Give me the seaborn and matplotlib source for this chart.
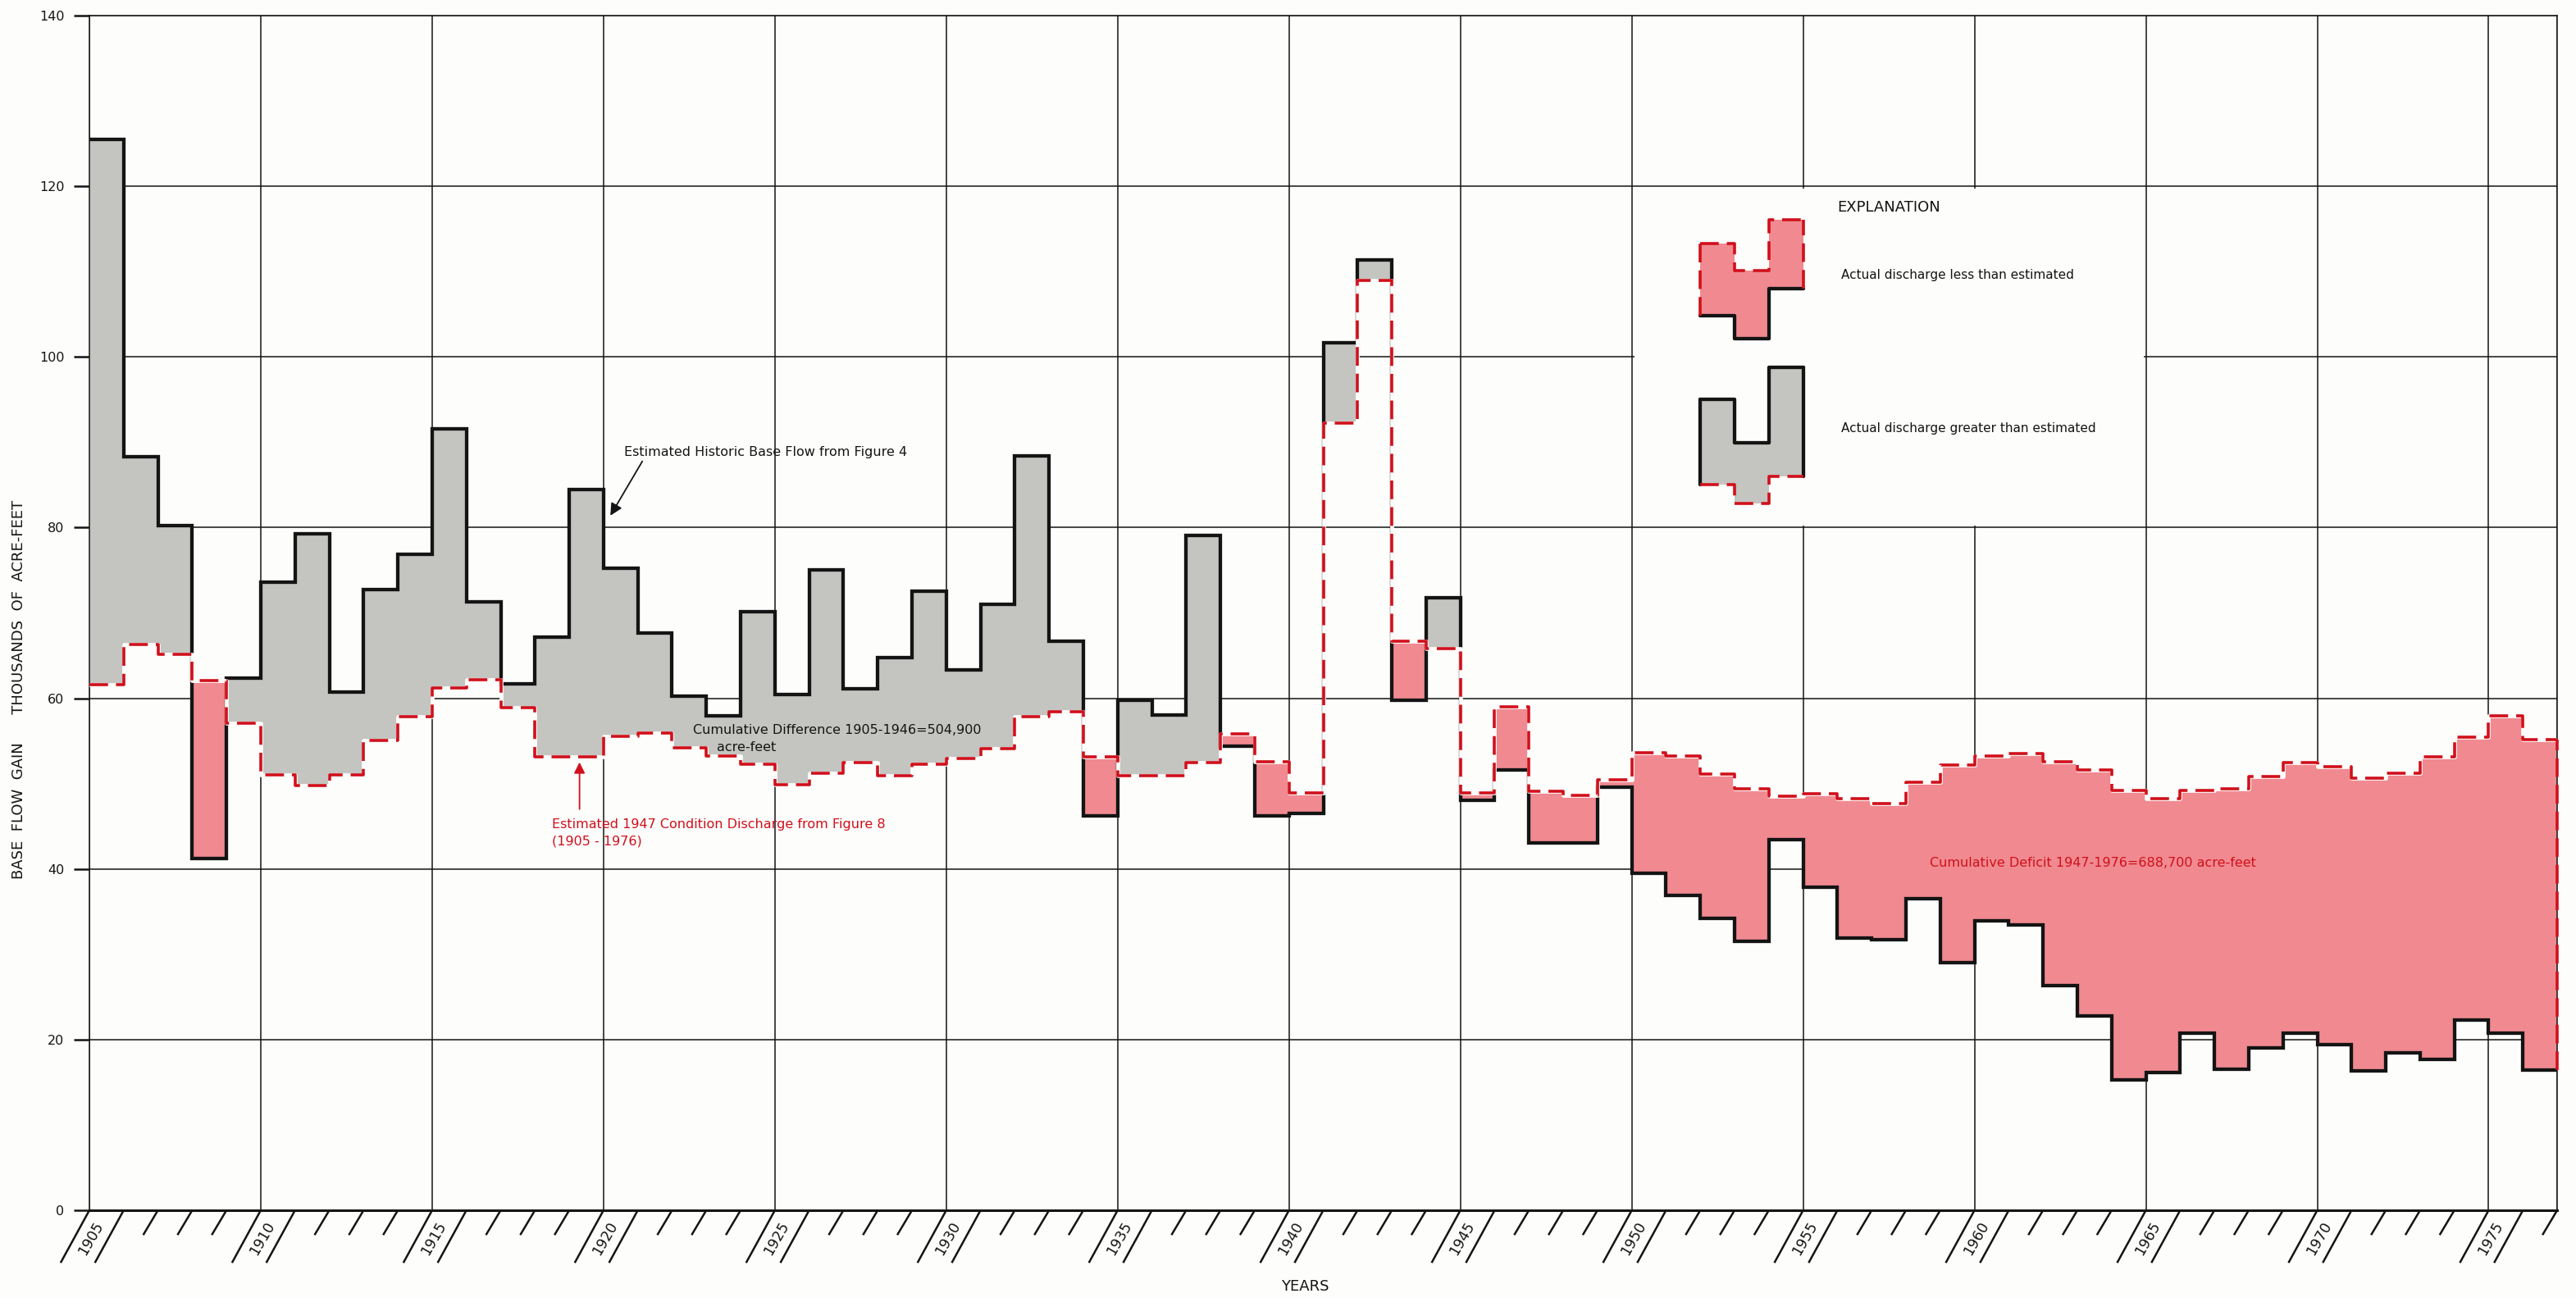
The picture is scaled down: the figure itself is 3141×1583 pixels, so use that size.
import numpy as np
import matplotlib
matplotlib.use("Agg")
import matplotlib.pyplot as plt
from matplotlib.patches import Rectangle
import seaborn as sns

# base flow gain, thousands of acre-feet, one value per year (1905-1976)
years = np.arange(1905, 1977)

# estimated historic base flow (Figure 4) - the black line
actual = [125.5, 88.3, 80.2, 41.2, 62.4, 73.6, 79.3, 60.7, 72.7, 76.9,
          91.6, 71.3, 61.7, 67.2, 84.5, 75.2, 67.6, 60.2, 57.9, 70.1,
          60.4, 75.0, 61.1, 64.8, 72.5, 63.3, 71.0, 88.4, 66.7, 46.2,
          59.8, 58.0, 79.1, 54.4, 46.2, 46.5, 101.7, 111.4, 59.8, 71.8,
          48.0, 51.6, 43.0, 43.0, 49.6, 39.5, 36.9, 34.2, 31.5, 43.4,
          37.9, 31.9, 31.7, 36.5, 29.0, 33.9, 33.4, 26.3, 22.8, 15.3,
          16.1, 20.8, 16.5, 19.0, 20.8, 19.4, 16.3, 18.4, 17.7, 22.3,
          20.8, 16.4]

# estimated 1947 condition discharge (Figure 8) - the red dashed line
estimated = [61.6, 66.3, 65.1, 62.1, 57.1, 51.0, 49.8, 51.0, 55.1, 57.8,
             61.2, 62.2, 58.9, 53.1, 53.1, 55.5, 55.9, 54.2, 53.2, 52.3,
             49.9, 51.2, 52.5, 50.9, 52.3, 52.9, 54.1, 57.8, 58.4, 53.1,
             50.9, 50.9, 52.5, 55.8, 52.6, 48.9, 92.2, 109.0, 66.7, 65.8,
             48.9, 59.0, 49.1, 48.6, 50.4, 53.6, 53.2, 51.1, 49.4, 48.5,
             48.8, 48.2, 47.7, 50.2, 52.2, 53.2, 53.5, 52.6, 51.6, 49.2,
             48.2, 49.2, 49.4, 50.8, 52.5, 52.0, 50.6, 51.2, 53.1, 55.4,
             57.9, 55.2]

# little step shapes used as symbols in the explanation box
leg_years = [1952, 1953, 1954]
leg_less_est = [113.3, 110.1, 116.1]
leg_less_act = [104.8, 102.1, 108.0]
leg_more_act = [95.0, 89.9, 98.8]
leg_more_est = [85.0, 82.8, 86.0]

tick_years = list(range(1905, 1976, 5))
y_ticks = [0, 20, 40, 60, 80, 100, 120, 140]

BLACK = '#141414'
RED = '#d0101c'
PINK = '#f08a90'
GRAY = '#c4c4c0'
PAPER = '#fdfdfb'
DASH = (0, (6.3, 2.7))

sns.set_theme(style='white')
plt.rcParams['font.family'] = ['DejaVu Sans']
plt.rcParams['text.color'] = BLACK

fig = plt.figure(figsize=(31.41, 15.83), dpi=100, facecolor=PAPER)
ax = fig.add_axes([0.0347, 0.0676, 0.958, 0.9204], facecolor=PAPER)
ax.set_xlim(1905, 1977)
ax.set_ylim(0, 140)

# grid: every 5 years and every 20 thousand acre-feet
ax.vlines(tick_years + [1977], 0, 140, color=BLACK, lw=1.1, zorder=1)
ax.hlines(y_ticks, 1905, 1977, color=BLACK, lw=1.1, zorder=1)
# blank cell holding the explanation
ax.add_patch(Rectangle((1950.07, 80.25), 14.86, 39.5, facecolor=PAPER,
                       edgecolor='none', zorder=1.5))

# shaded differences
for i, yr in enumerate(years):
    fc = GRAY if actual[i] >= estimated[i] else PINK
    ax.fill_between([yr, yr + 1], estimated[i], actual[i], color=fc, lw=0, zorder=2)

edges = np.append(years, years[-1] + 1)
est_edge = np.append(estimated, estimated[-1])
sns.lineplot(x=edges, y=np.append(actual, actual[-1]), drawstyle='steps-post',
             color=BLACK, lw=3.1, solid_joinstyle='miter', solid_capstyle='butt',
             ax=ax, zorder=4)
# paper-coloured underlay so black risers under the red dashes drop out
sns.lineplot(x=edges, y=est_edge, drawstyle='steps-post', color=PAPER, lw=3.4,
             ax=ax, zorder=4.5)
sns.lineplot(x=edges, y=est_edge, drawstyle='steps-post',
             color=RED, lw=2.6, linestyle=DASH, ax=ax, zorder=5)
# close the deficit area at the right edge
ax.plot([edges[-1], edges[-1]], [actual[-1], estimated[-1]], color=RED, lw=2.6,
        linestyle=DASH, zorder=5, clip_on=False)

# explanation symbols
leg_edges = leg_years + [leg_years[-1] + 1]
for i, yr in enumerate(leg_years):
    ax.fill_between([yr, yr + 1], leg_less_act[i], leg_less_est[i], color=PINK, lw=0, zorder=2)
    ax.fill_between([yr, yr + 1], leg_more_est[i], leg_more_act[i], color=GRAY, lw=0, zorder=2)
ax.step(leg_edges, leg_less_act + leg_less_act[-1:], where='post', color=BLACK, lw=3.1, zorder=4)
ax.step(leg_edges, leg_less_est + leg_less_est[-1:], where='post', color=RED, lw=2.6,
        linestyle=DASH, zorder=5)
for x, a, b in [(leg_edges[0], leg_less_act[0], leg_less_est[0]),
                (leg_edges[-1], leg_less_act[-1], leg_less_est[-1])]:
    ax.plot([x, x], [a, b], color=RED, lw=2.6, linestyle=DASH, zorder=5)
ax.step(leg_edges, leg_more_act + leg_more_act[-1:], where='post', color=BLACK, lw=3.1, zorder=4)
ax.step(leg_edges, leg_more_est + leg_more_est[-1:], where='post', color=RED, lw=2.6,
        linestyle=DASH, zorder=5)
for x, a, b in [(leg_edges[0], leg_more_est[0], leg_more_act[0]),
                (leg_edges[-1], leg_more_est[-1], leg_more_act[-1])]:
    ax.plot([x, x], [a, b], color=BLACK, lw=3.1, zorder=4)

ax.text(1956.0, 117.5, 'EXPLANATION', fontsize=13, va='center', ha='left')
ax.text(1956.1, 109.6, 'Actual discharge less than estimated', fontsize=11,
        va='center', ha='left')
ax.text(1956.1, 91.6, 'Actual discharge greater than estimated', fontsize=11,
        va='center', ha='left')

# annotations
ax.annotate('Estimated Historic Base Flow from Figure 4', xy=(1920.2, 81.4),
            xytext=(1920.6, 88.8), fontsize=11.5, va='center', ha='left', zorder=6,
            arrowprops=dict(arrowstyle='-|>', color=BLACK, lw=1.3,
                            mutation_scale=22, shrinkA=0, shrinkB=0,
                            relpos=(0.07, 0.0)))
ax.text(1922.6, 56.3, 'Cumulative Difference 1905-1946=504,900', fontsize=11.5,
        va='center', ha='left', zorder=6)
ax.text(1923.3, 54.2, 'acre-feet', fontsize=11.5, va='center', ha='left', zorder=6)

ax.text(1918.5, 45.2, 'Estimated 1947 Condition Discharge from Figure 8', color=RED,
        fontsize=11.5, va='center', ha='left', zorder=6)
ax.text(1918.5, 43.2, '(1905 - 1976)', color=RED, fontsize=11.5, va='center',
        ha='left', zorder=6)
ax.annotate('', xy=(1919.3, 52.5), xytext=(1919.3, 47.0), zorder=6,
            arrowprops=dict(arrowstyle='-|>', color=RED, lw=1.3,
                            mutation_scale=20, shrinkA=0, shrinkB=0))

ax.text(1958.7, 40.7, 'Cumulative Deficit 1947-1976=688,700 acre-feet', color=RED,
        fontsize=11.5, va='center', ha='left', zorder=6)

# axes, ticks
for side in ['top', 'right', 'left']:
    ax.spines[side].set_color(BLACK)
    ax.spines[side].set_linewidth(1.1)
ax.spines['bottom'].set_color(BLACK)
ax.spines['bottom'].set_linewidth(2.2)

ax.set_yticks(y_ticks)
ax.set_yticklabels([str(v) for v in y_ticks])
ax.tick_params(axis='y', length=14, width=1.8, color=BLACK, pad=8,
               labelsize=11.5, labelcolor=BLACK, left=True)
ax.set_xticks([])

# slanted year ticks below the axis
trans = ax.get_xaxis_transform()
for yr in range(1905, 1978):
    if yr % 5 in (0, 1) and yr < 1977:
        dx, dy = -0.84, -0.044
    else:
        dx, dy = -0.43, -0.0207
    ax.plot([yr, yr + dx], [0, dy], transform=trans, clip_on=False, color=BLACK,
            lw=1.8, solid_capstyle='butt')
for yr in tick_years:
    ax.text(yr + 0.05, -0.0234, str(yr), transform=trans, rotation=60,
            rotation_mode='anchor', ha='center', va='center', fontsize=12.5)

ax.text(0.4927, -0.064, 'YEARS', transform=ax.transAxes, ha='center', va='center',
        fontsize=13)
ax.set_ylabel('BASE  FLOW  GAIN      THOUSANDS  OF  ACRE-FEET', fontsize=13,
              color=BLACK)
ax.yaxis.set_label_coords(-0.0256, 0.436)

fig.savefig('out.png', dpi=100, facecolor=PAPER)
